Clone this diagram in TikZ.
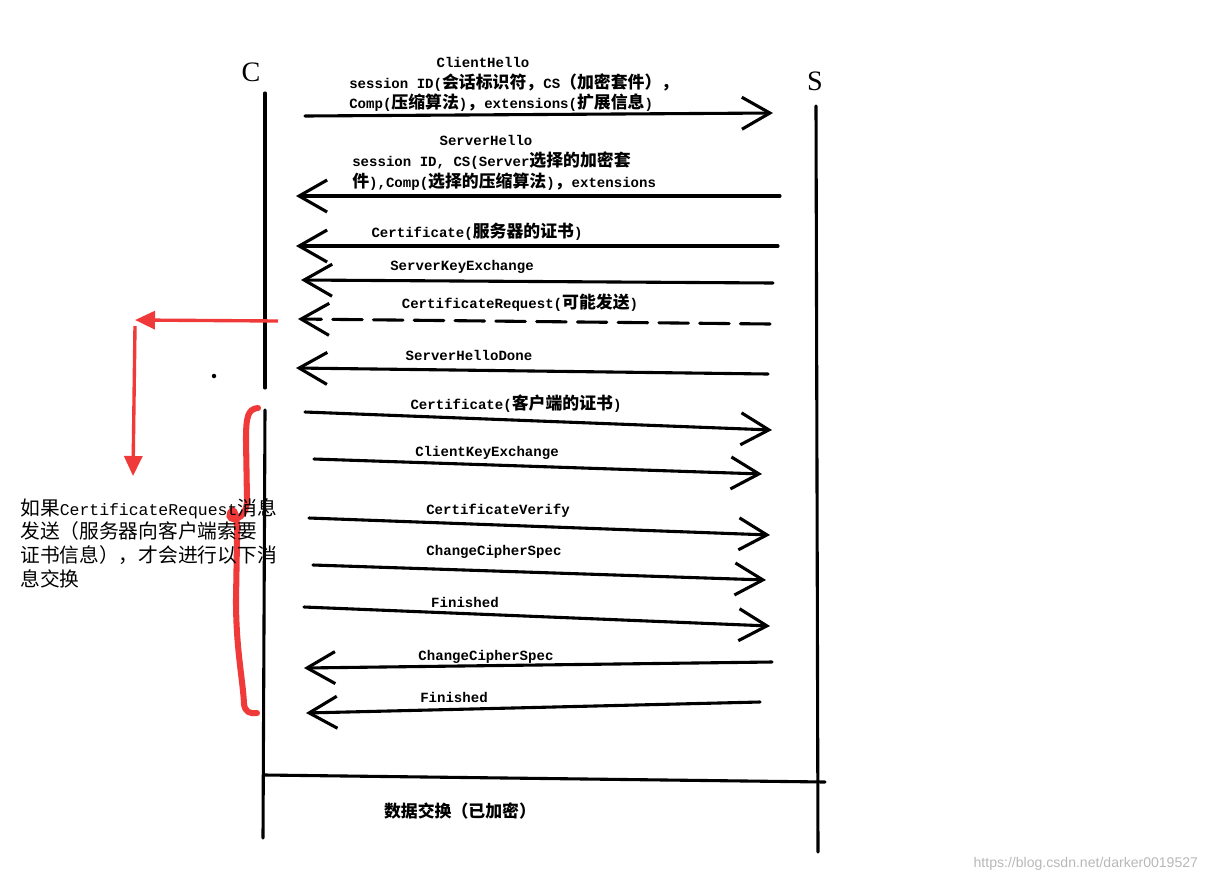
\documentclass[tikz,border=0pt]{standalone}
\usepackage{fontspec}
\usetikzlibrary{arrows.meta}
\setmainfont{Liberation Mono}
\newfontfamily\cjk[Scale=1.2]{Noto Sans CJK SC}
\newfontfamily\titlefont{Liberation Serif}
\newfontfamily\markfont{Liberation Sans}
\newcommand{\zh}[1]{{\cjk #1}}
\definecolor{penred}{RGB}{240,58,58}

\begin{document}
\begin{tikzpicture}[x = 0.025cm, y = -0.025cm]
\tikzstyle{Life}=[line width = 2.2pt, line cap = round]
\tikzstyle{Msg}=[line width = 2.2pt, line cap = round,
                 -{Straight Barb[length = 7mm, width = 8mm]}]
\tikzstyle{MsgLabel}=[font = \bfseries\fontsize{10}{12}\selectfont, inner sep = 0pt]
\tikzstyle{RedPen}=[penred, line width = 2.4pt,
                    -{Triangle[length = 5mm, width = 4.5mm]}]
\useasboundingbox (0,0) rectangle (1211,884);
% lifelines
\node[font = \titlefont\fontsize{20}{20}\selectfont] (C) at (251,72) {C};
\node[font = \titlefont\fontsize{20}{20}\selectfont] (S) at (815,81) {S};
\coordinate (c0) at (265,93);
\coordinate (c1) at (265,388);
\coordinate (c2) at (265,410);
\coordinate (c3) at (263,838);
\coordinate (s0) at (816,106);
\coordinate (s1) at (818,852);
\draw[Life] (c0) -- (c1);
\draw[Life] (c2) -- (c3);
\draw[Life] (s0) -- (s1);
% message ends
\coordinate (m1a) at (305,116);  \coordinate (m1b) at (773,113);
\coordinate (m2a) at (780,196);  \coordinate (m2b) at (296,196);
\coordinate (m3a) at (778,246);  \coordinate (m3b) at (296,246);
\coordinate (m4a) at (773,283);  \coordinate (m4b) at (301,280);
\coordinate (m5a) at (770,324);  \coordinate (m5b) at (298,319);
\coordinate (m6a) at (768,374);  \coordinate (m6b) at (296,368);
\coordinate (m7a) at (305,412);  \coordinate (m7b) at (772,430);
\coordinate (m8a) at (314,459);  \coordinate (m8b) at (762,474);
\coordinate (m9a) at (309,518);  \coordinate (m9b) at (770,535);
\coordinate (m10a) at (313,565); \coordinate (m10b) at (766,580);
\coordinate (m11a) at (304,607); \coordinate (m11b) at (770,626);
\coordinate (m12a) at (772,662); \coordinate (m12b) at (304,668);
\coordinate (m13a) at (760,702); \coordinate (m13b) at (306,713);
\draw[Msg] (m1a) -- (m1b);
\draw[Msg] (m2a) -- (m2b);
\draw[Msg] (m3a) -- (m3b);
\draw[Msg] (m4a) -- (m4b);
\draw[Msg, dash pattern = on 21pt off 8pt] (m5a) -- (m5b);
\draw[Msg] (m6a) -- (m6b);
\draw[Msg] (m7a) -- (m7b);
\draw[Msg] (m8a) -- (m8b);
\draw[Msg] (m9a) -- (m9b);
\draw[Msg] (m10a) -- (m10b);
\draw[Msg] (m11a) -- (m11b);
\draw[Msg] (m12a) -- (m12b);
\draw[Msg] (m13a) -- (m13b);
% labels
\node[MsgLabel] (l1) at (483,62) {ClientHello};
\node[MsgLabel, anchor = west] (l1b) at (349,83) {session ID(\zh{会话标识符}\zh{，}CS\zh{（加密套件），}};
\node[MsgLabel, anchor = west] (l1c) at (349,103) {Comp(\zh{压缩算法})\zh{，}extensions(\zh{扩展信息})};
\node[MsgLabel] (l2) at (486,140) {ServerHello};
\node[MsgLabel, anchor = west] (l2b) at (352,161) {session ID, CS(Server\zh{选择的加密套}};
\node[MsgLabel, anchor = west] (l2c) at (352,182) {\zh{件}),Comp(\zh{选择的压缩算法})\zh{，}extensions};
\node[MsgLabel] (l3) at (477,232) {Certificate(\zh{服务器的证书})};
\node[MsgLabel] (l4) at (462,267) {ServerKeyExchange};
\node[MsgLabel] (l5) at (520,303) {CertificateRequest(\zh{可能发送})};
\node[MsgLabel] (l6) at (469,355) {ServerHelloDone};
\node[MsgLabel] (l7) at (516,404) {Certificate(\zh{客户端的证书})};
\node[MsgLabel] (l8) at (487,453) {ClientKeyExchange};
\node[MsgLabel] (l9) at (498,511) {CertificateVerify};
\node[MsgLabel] (l10) at (494,552) {ChangeCipherSpec};
\node[MsgLabel] (l11) at (465,602) {Finished};
\node[MsgLabel] (l12) at (486,657) {ChangeCipherSpec};
\node[MsgLabel] (l13) at (454,697) {Finished};
% data exchange
\coordinate (d0) at (265,775);
\coordinate (d1) at (825,782);
\draw[Life] (d0) -- (d1);
\node[MsgLabel] (data) at (460,811) {\zh{数据交换（已加密）}};
% red notes
\coordinate (r0) at (278,321);
\coordinate (r1) at (135,320);
\coordinate (r2) at (135,326);
\coordinate (r3) at (133,476);
\draw[RedPen] (r0) -- (r1);
\draw[RedPen] (r2) -- (r3);
\draw[penred, line width = 4.3pt, line cap = round]
  (258,408) .. controls (248,409) and (246,416) .. (246,440)
  -- (247,500) .. controls (247,522) and (226,523) .. (230,513)
  .. controls (234,505) and (238,515) .. (237,540)
  -- (236,600) .. controls (236,650) and (243,680) .. (244,704)
  .. controls (245,712) and (250,714) .. (257,713);
\fill (214,376) circle (1.6pt);
\node[anchor = north west, align = left, inner sep = 0pt,
      font = \fontsize{11.7}{17}\selectfont] (note) at (20,498)
  {\zh{如果}CertificateRequest\zh{消息}\\
   \zh{发送（服务器向客户端索要}\\
   \zh{证书信息），才会进行以下消}\\
   \zh{息交换}};
\node[anchor = east, text = black!28, font = \markfont\fontsize{10}{12}\selectfont]
  (mark) at (1203,864) {https://blog.csdn.net/darker0019527};
\end{tikzpicture}
\end{document}
